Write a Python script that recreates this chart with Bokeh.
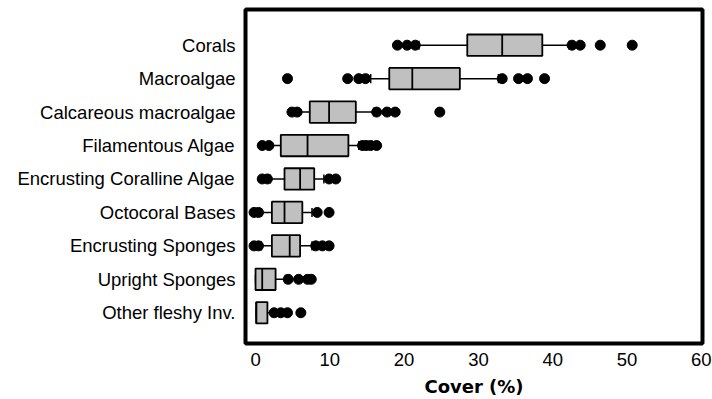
from bokeh.plotting import figure
from bokeh.models import ColumnDataSource, FixedTicker, Range1d
from bokeh.embed import file_html
from bokeh.resources import INLINE

categories = ["Corals", "Macroalgae", "Calcareous macroalgae", "Filamentous Algae",
              "Encrusting Coralline Algae", "Octocoral Bases", "Encrusting Sponges",
              "Upright Sponges", "Other fleshy Inv."]
whisker_low = [22.0, 15.5, 5.8, 2.0, 2.0, 0.8, 0.8, 0.0, 0.1]
q1 = [28.5, 18.0, 7.3, 3.4, 3.9, 2.2, 2.2, 0.0, 0.1]
median = [33.2, 21.1, 9.9, 7.0, 6.0, 3.9, 4.6, 0.9, 0.1]
q3 = [38.6, 27.5, 13.5, 12.5, 7.9, 6.3, 6.0, 2.7, 1.6]
whisker_high = [42.2, 32.7, 15.9, 13.9, 9.2, 7.6, 7.6, 4.0, 2.2]
outliers = [
    [19.1, 20.4, 21.5, 42.6, 43.7, 46.4, 50.7],
    [4.3, 12.4, 13.9, 14.8, 33.2, 35.4, 36.6, 38.9],
    [4.9, 5.6, 16.3, 17.7, 18.8, 24.8],
    [0.9, 1.8, 14.4, 14.9, 15.5, 16.3],
    [0.9, 1.6, 9.9, 10.8],
    [-0.2, 0.4, 8.3, 9.9],
    [-0.2, 0.4, 8.1, 9.0, 9.9],
    [4.4, 5.8, 7.0, 7.5],
    [2.5, 3.4, 4.3, 6.1],
]
x_ticks = [0, 10, 20, 30, 40, 50, 60]

n = len(categories)
ypos = [n - i for i in range(n)]
box_h = 0.64
cap_h = 0.27

src = ColumnDataSource(dict(
    y=ypos, q1=q1, q3=q3, med=median, lo=whisker_low, hi=whisker_high,
    y0=[y - box_h / 2 for y in ypos], y1=[y + box_h / 2 for y in ypos],
    c0=[y - cap_h / 2 for y in ypos], c1=[y + cap_h / 2 for y in ypos],
))
ox, oy = [], []
for y, vals in zip(ypos, outliers):
    for v in vals:
        ox.append(v)
        oy.append(y)
osrc = ColumnDataSource(dict(x=ox, y=oy))

p = figure(width=712, height=399, output_backend="svg", toolbar_location=None,
           x_range=Range1d(-1.35, 60.16), y_range=Range1d(0.081, 10.067),
           min_border_left=245, min_border_right=10, min_border_top=9,
           min_border_bottom=53)
p.background_fill_color = "white"
p.border_fill_color = "white"
p.outline_line_color = "black"
p.outline_line_width = 4
p.xgrid.visible = False
p.ygrid.visible = False

# whiskers
p.segment(x0="lo", y0="y", x1="q1", y1="y", source=src, line_color="black", line_width=1.5)
p.segment(x0="q3", y0="y", x1="hi", y1="y", source=src, line_color="black", line_width=1.5)
# caps
p.segment(x0="lo", y0="c0", x1="lo", y1="c1", source=src, line_color="black", line_width=1.5)
p.segment(x0="hi", y0="c0", x1="hi", y1="c1", source=src, line_color="black", line_width=1.5)
# boxes
p.hbar(y="y", left="q1", right="q3", height=box_h, source=src,
       fill_color="#c0c0c0", line_color="black", line_width=1.8)
p.segment(x0="med", y0="y0", x1="med", y1="y1", source=src, line_color="black", line_width=1.8)
# outliers
p.scatter(x="x", y="y", source=osrc, size=10, marker="circle",
          fill_color="black", line_color="black")

p.xaxis.ticker = FixedTicker(ticks=x_ticks)
p.xaxis.axis_label = "Cover (%)"
p.xaxis.axis_label_text_font = "DejaVu Sans"
p.xaxis.axis_label_text_font_style = "bold"
p.xaxis.axis_label_text_font_size = "18px"
p.xaxis.axis_label_text_color = "black"
p.xaxis.axis_label_standoff = 7
p.xaxis.major_label_text_font = "Liberation Sans"
p.xaxis.major_label_text_font_size = "18.5px"
p.xaxis.major_label_text_color = "black"
p.xaxis.major_label_standoff = 9

p.yaxis.ticker = FixedTicker(ticks=ypos)
p.yaxis.major_label_overrides = {y: c for y, c in zip(ypos, categories)}
p.yaxis.major_label_text_font = "Liberation Sans"
p.yaxis.major_label_text_font_size = "18.5px"
p.yaxis.major_label_text_color = "black"
p.yaxis.major_label_standoff = 10

for ax in (p.xaxis, p.yaxis):
    ax.axis_line_color = None
    ax.major_tick_line_color = None
    ax.minor_tick_line_color = None
    ax.major_tick_out = 0
    ax.major_tick_in = 0

open("out.html", "w").write(file_html(p, INLINE))
